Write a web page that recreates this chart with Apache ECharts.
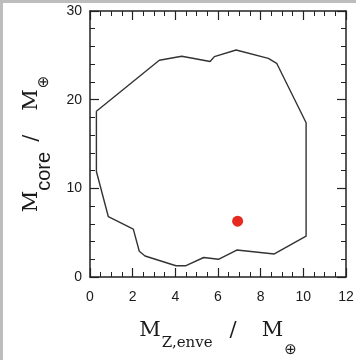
<!DOCTYPE html>
<html>
<head>
<meta charset="utf-8">
<script src="https://cdn.jsdelivr.net/npm/echarts@6/dist/echarts.min.js"></script>
<style>
  html, body { margin: 0; padding: 0; background: #fff; }
  #main { width: 356px; height: 360px; }
</style>
</head>
<body>
<div id="main"></div>
<script>
// outline of the allowed region, traced clockwise from the left edge
var outlineX = [0.3, 3.25, 4.3, 5.63, 5.83, 6.85, 8.36, 8.75, 10.13, 10.13, 8.64, 6.88, 6.02, 5.33, 4.5, 4.03, 2.58, 2.31, 2.03, 0.86, 0.3, 0.3];
var outlineY = [18.7, 24.45, 24.9, 24.3, 24.85, 25.6, 24.65, 24.1, 17.4, 4.6, 2.6, 3.04, 2.0, 2.2, 1.27, 1.27, 2.37, 2.9, 5.4, 6.8, 11.9, 18.7];
// the single red point
var pointX = [6.92];
var pointY = [6.3];
var xTicks = [0, 12, 2];   // min, max, step
var yTicks = [0, 30, 10];

var outline = [];
for (var i = 0; i < outlineX.length; i++) {
	outline.push([outlineX[i], outlineY[i]]);
}
var points = [];
for (var j = 0; j < pointX.length; j++) {
	points.push([pointX[j], pointY[j]]);
}

var dom = document.getElementById('main');
var myChart = echarts.init(dom, null, { renderer: 'canvas' });

var axisLine = { show: true, onZero: false, lineStyle: { color: '#222', width: 1.5 } };
var axisTick = { show: true, inside: true, length: 9, lineStyle: { color: '#222', width: 1.2 } };
var sans = 'Liberation Sans, Arial, Helvetica, sans-serif';
var serif = 'DejaVu Serif, serif';

var option = {
	animation: false,
	backgroundColor: '#fff',
	graphic: [
		{ type: 'rect', left: 0, top: 0, shape: { width: 3, height: 360 }, style: { fill: '#bdbdbd' } },
		{ type: 'rect', left: 0, top: 0, shape: { width: 356, height: 3 }, style: { fill: '#bdbdbd' } }
	],
	grid: { left: 90, right: 10, top: 11, bottom: 83, outerBoundsMode: 'none', containLabel: false },
	xAxis: [{
		type: 'value',
		min: xTicks[0], max: xTicks[1], interval: xTicks[2],
		position: 'bottom',
		axisLine: axisLine,
		axisTick: axisTick,
		minorTick: { show: true, splitNumber: 4, length: 5, lineStyle: { color: '#222', width: 1 } },
		splitLine: { show: false },
		axisLabel: { color: '#1a1a1a', fontSize: 14, fontFamily: sans, margin: 13 },
		name: '{m|M}{sub|Z,enve}{sl|/}{m|M}{op|⊕}',
		nameLocation: 'middle',
		nameGap: 43,
		nameTextStyle: {
			rich: {
				m: { fontFamily: serif, fontSize: 21, lineHeight: 24, verticalAlign: 'top', color: '#1a1a1a' },
				sub: { fontFamily: serif, fontSize: 15, lineHeight: 16, verticalAlign: 'top', padding: [16, 0, 0, 1], color: '#1a1a1a' },
				sl: { fontFamily: serif, fontSize: 21, lineHeight: 24, verticalAlign: 'top', padding: [0, 25, 0, 17], color: '#1a1a1a' },
				op: { fontFamily: 'DejaVu Sans', fontSize: 15, lineHeight: 16, verticalAlign: 'top', padding: [23, 0, 0, 1], color: '#1a1a1a' }
			}
		}
	}, {
		type: 'value',
		min: xTicks[0], max: xTicks[1], interval: xTicks[2],
		position: 'top',
		axisLine: axisLine,
		axisTick: axisTick,
		minorTick: { show: true, splitNumber: 4, length: 5, lineStyle: { color: '#222', width: 1 } },
		splitLine: { show: false },
		axisLabel: { show: false }
	}],
	yAxis: [{
		type: 'value',
		min: yTicks[0], max: yTicks[1], interval: yTicks[2],
		position: 'left',
		axisLine: axisLine,
		axisTick: axisTick,
		minorTick: { show: true, splitNumber: 5, length: 5, lineStyle: { color: '#222', width: 1 } },
		splitLine: { show: false },
		axisLabel: { color: '#1a1a1a', fontSize: 14, fontFamily: sans, margin: 8, padding: [8, 0, 0, 0] },
		name: '{m|M}{sub|core}{sl|/}{m|M}{op|⊕}',
		nameLocation: 'middle',
		nameRotate: 90,
		nameGap: 45,
		nameTextStyle: {
			rich: {
				m: { fontFamily: serif, fontSize: 21, lineHeight: 24, verticalAlign: 'top', color: '#1a1a1a' },
				sub: { fontFamily: sans, fontSize: 20, lineHeight: 20, verticalAlign: 'top', padding: [13, 0, 0, 0], color: '#1a1a1a' },
				sl: { fontFamily: serif, fontSize: 21, lineHeight: 24, verticalAlign: 'top', padding: [0, 24, 0, 10], color: '#1a1a1a' },
				op: { fontFamily: 'DejaVu Sans', fontSize: 15, lineHeight: 16, verticalAlign: 'top', padding: [16, 0, 0, 1], color: '#1a1a1a' }
			}
		}
	}, {
		type: 'value',
		min: yTicks[0], max: yTicks[1], interval: yTicks[2],
		position: 'right',
		axisLine: axisLine,
		axisTick: axisTick,
		minorTick: { show: true, splitNumber: 5, length: 5, lineStyle: { color: '#222', width: 1 } },
		splitLine: { show: false },
		axisLabel: { show: false }
	}],
	series: [{
		name: 'outline',
		type: 'line',
		xAxisIndex: 0,
		yAxisIndex: 0,
		data: outline,
		showSymbol: false,
		symbol: 'none',
		lineStyle: { color: '#333', width: 1.4 }
	}, {
		name: 'point',
		type: 'scatter',
		xAxisIndex: 0,
		yAxisIndex: 0,
		data: points,
		symbolSize: 11,
		itemStyle: { color: '#e62a1f', opacity: 1 }
	}]
};

if (option && typeof option === 'object') {
	myChart.setOption(option, true);
}
</script>
</body>
</html>
